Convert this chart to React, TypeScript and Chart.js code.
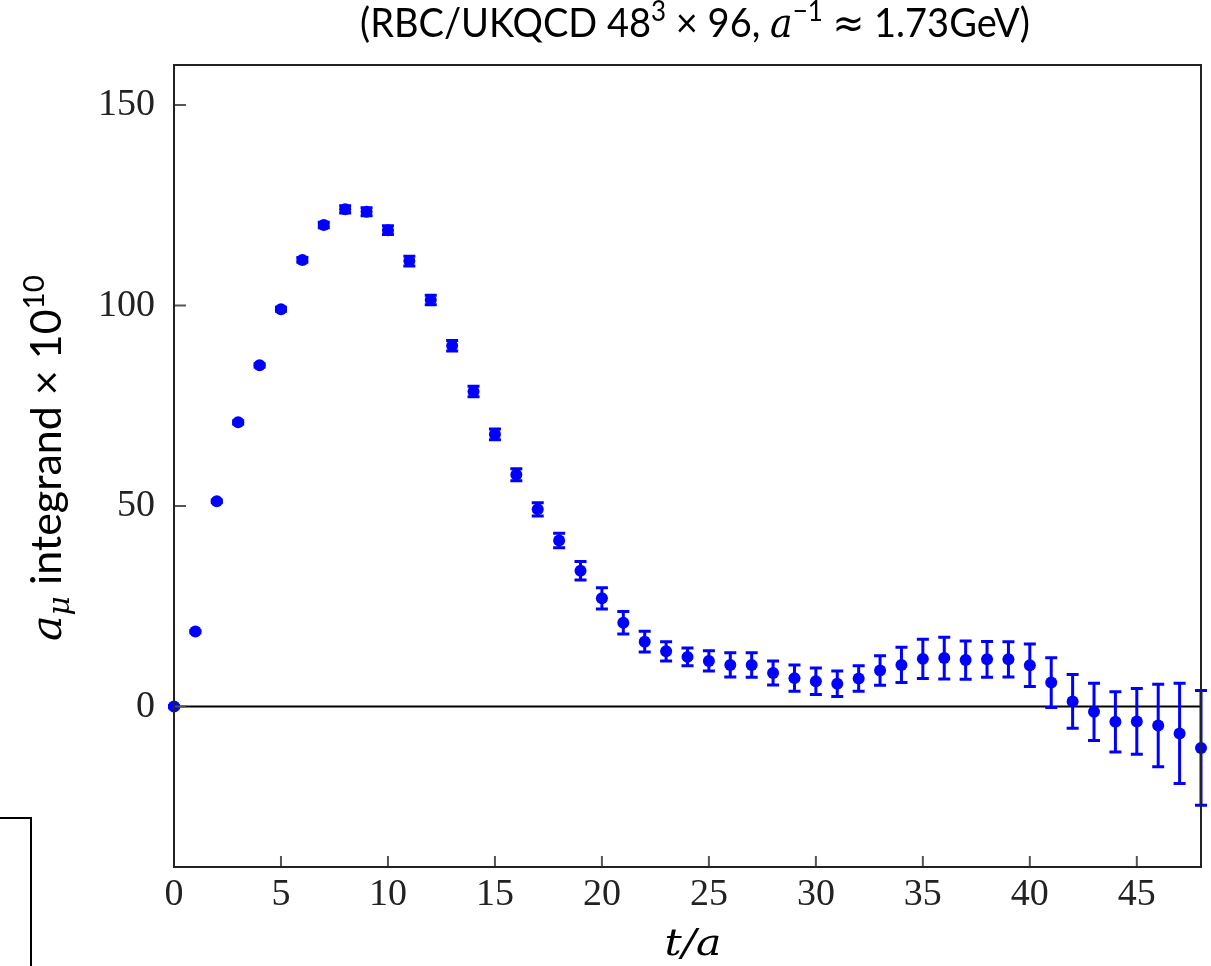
import React, { useEffect, useRef } from 'react';
import { Chart, registerables } from 'chart.js';

Chart.register(...registerables);

// ---- data ----
const tValues = [
  0, 1, 2, 3, 4, 5, 6, 7, 8, 9, 10, 11, 12, 13, 14, 15, 16, 17, 18, 19, 20, 21, 22, 23, 24,
  25, 26, 27, 28, 29, 30, 31, 32, 33, 34, 35, 36, 37, 38, 39, 40, 41, 42, 43, 44, 45, 46, 47, 48,
];
const integrand = [
  0, 18.7, 51.2, 70.9, 85.1, 99.1, 111.4, 120.1, 124.0, 123.4, 118.8, 111.1, 101.4, 90.0, 78.6,
  67.9, 57.8, 49.2, 41.4, 33.9, 27.0, 20.9, 16.2, 13.8, 12.4, 11.4, 10.4, 10.4, 8.4, 7.1, 6.3,
  5.7, 7.0, 9.0, 10.4, 11.9, 12.1, 11.6, 11.8, 11.8, 10.3, 6.0, 1.3, -1.3, -3.8, -3.7, -4.7, -6.7,
  -10.3,
];
const integrandErr = [
  0.3, 0.3, 0.3, 0.4, 0.4, 0.5, 0.6, 0.7, 0.9, 1.0, 1.1, 1.2, 1.2, 1.3, 1.3, 1.35, 1.5, 1.65,
  1.8, 2.3, 2.65, 2.8, 2.6, 2.4, 2.2, 2.5, 3.0, 3.05, 3.0, 3.3, 3.3, 3.2, 3.2, 3.7, 4.4, 4.9, 5.2,
  4.75, 4.45, 4.4, 5.3, 6.2, 6.7, 7.15, 7.5, 8.2, 10.3, 12.5, 14.3,
];
const xTickValues = [0, 5, 10, 15, 20, 25, 30, 35, 40, 45];
const yTickValues = [0, 50, 100, 150];

const BLUE = '#0000ff';
const SANS = 'Lato, "Open Sans", sans-serif';
const MATH = '"DejaVu Serif", serif';
const SYM = '"DejaVu Sans", sans-serif';

type Seg = { text: string; family: string; style?: string; scale?: number; dy?: number };

function segFont(s: Seg, size: number) {
  return `${s.style || 'normal'} normal ${Math.round(size * (s.scale || 1))}px ${s.family}`;
}

function drawRich(ctx: CanvasRenderingContext2D, segs: Seg[], size: number, targetWidth?: number) {
  const widths: number[] = [];
  let total = 0;
  for (const s of segs) {
    ctx.font = segFont(s, size);
    const w = ctx.measureText(s.text).width;
    widths.push(w);
    total += w;
  }
  const sx = targetWidth ? targetWidth / total : 1;
  ctx.save();
  ctx.scale(sx, 1);
  ctx.textAlign = 'left';
  ctx.textBaseline = 'alphabetic';
  ctx.fillStyle = '#000';
  let cx = -total / 2;
  segs.forEach((s, i) => {
    ctx.font = segFont(s, size);
    ctx.fillText(s.text, cx, (s.dy || 0) * size);
    cx += widths[i];
  });
  ctx.restore();
}

const decorPlugin = {
  id: 'decor',
  beforeDatasetsDraw(chart: any) {
    const ctx: CanvasRenderingContext2D = chart.ctx;
    const xs = chart.scales.x;
    const ys = chart.scales.y;
    const a = chart.chartArea;
    ctx.save();
    // zero line
    ctx.strokeStyle = '#000';
    ctx.lineWidth = 2;
    ctx.beginPath();
    ctx.moveTo(a.left, ys.getPixelForValue(0));
    ctx.lineTo(a.right, ys.getPixelForValue(0));
    ctx.stroke();
    // error bars
    ctx.strokeStyle = BLUE;
    ctx.lineWidth = 3;
    const cap = 6;
    tValues.forEach((t, i) => {
      const px = xs.getPixelForValue(t);
      const top = ys.getPixelForValue(integrand[i] + integrandErr[i]);
      const bot = ys.getPixelForValue(integrand[i] - integrandErr[i]);
      ctx.beginPath();
      ctx.moveTo(px, top);
      ctx.lineTo(px, bot);
      ctx.moveTo(px - cap, top);
      ctx.lineTo(px + cap, top);
      ctx.moveTo(px - cap, bot);
      ctx.lineTo(px + cap, bot);
      ctx.stroke();
    });
    ctx.restore();
  },
  afterDraw(chart: any) {
    const ctx: CanvasRenderingContext2D = chart.ctx;
    const xs = chart.scales.x;
    const ys = chart.scales.y;
    const a = chart.chartArea;
    ctx.save();
    // inward tick marks
    ctx.strokeStyle = '#555';
    ctx.lineWidth = 2;
    ctx.beginPath();
    xTickValues.forEach((v) => {
      const px = xs.getPixelForValue(v);
      ctx.moveTo(px, a.bottom);
      ctx.lineTo(px, a.bottom - 11);
    });
    yTickValues.forEach((v) => {
      const py = ys.getPixelForValue(v);
      ctx.moveTo(a.left, py);
      ctx.lineTo(a.left + 12, py);
    });
    ctx.stroke();
    // frame
    ctx.strokeStyle = '#222';
    ctx.lineWidth = 2;
    ctx.strokeRect(a.left, a.top, a.right - a.left, a.bottom - a.top);
    // stray box fragment bottom-left
    ctx.strokeStyle = '#000';
    ctx.lineWidth = 2;
    ctx.beginPath();
    ctx.moveTo(0, 818);
    ctx.lineTo(31, 818);
    ctx.lineTo(31, 966);
    ctx.stroke();

    // title
    ctx.save();
    ctx.translate(695, 37);
    drawRich(
      ctx,
      [
        { text: '(RBC/UKQCD 48', family: SANS },
        { text: '3', family: SANS, scale: 0.68, dy: -0.4 },
        { text: ' × 96, ', family: SANS },
        { text: 'a', family: MATH, style: 'italic' },
        { text: '−1', family: SANS, scale: 0.68, dy: -0.4 },
        { text: ' ', family: SANS },
        { text: '≈', family: SYM },
        { text: ' 1.73GeV)', family: SANS },
      ],
      41,
      670,
    );
    ctx.restore();

    // y-axis title
    ctx.save();
    ctx.translate(61, 458);
    ctx.rotate(-Math.PI / 2);
    drawRich(
      ctx,
      [
        { text: 'a', family: MATH, style: 'italic' },
        { text: 'μ', family: MATH, style: 'italic', scale: 0.7, dy: 0.2 },
        { text: ' integrand × 10', family: SANS },
        { text: '10', family: SANS, scale: 0.68, dy: -0.4 },
      ],
      42,
      366,
    );
    ctx.restore();

    // x-axis title
    ctx.save();
    ctx.translate(693, 955);
    drawRich(ctx, [{ text: 't/a', family: MATH, style: 'italic' }], 38, 57);
    ctx.restore();

    ctx.restore();
  },
};

export default function App() {
  const ref = useRef<HTMLCanvasElement | null>(null);
  useEffect(() => {
    if (!ref.current) return;
    const chart = new Chart(ref.current, {
      type: 'scatter',
      data: {
        datasets: [
          {
            data: tValues.map((t, i) => ({ x: t, y: integrand[i] })),
            backgroundColor: BLUE,
            borderColor: BLUE,
            pointRadius: 6,
            pointBorderWidth: 0,
            showLine: false,
            clip: false as any,
          },
        ],
      },
      options: {
        responsive: false,
        animation: false,
        devicePixelRatio: 1,
        layout: { padding: { top: 65, right: 10, left: 0, bottom: 0 } },
        plugins: { legend: { display: false }, tooltip: { enabled: false }, title: { display: false } },
        scales: {
          x: {
            type: 'linear',
            min: 0,
            max: 48,
            grid: { display: false, drawTicks: false },
            border: { display: false },
            ticks: {
              padding: 5,
              color: '#222',
              font: { family: '"Liberation Serif", serif', size: 38 },
              maxRotation: 0,
              autoSkip: false,
            },
            afterBuildTicks: (s: any) => {
              s.ticks = xTickValues.map((v) => ({ value: v }));
            },
            afterFit: (s: any) => {
              s.height = 99;
            },
          },
          y: {
            type: 'linear',
            min: -40,
            max: 160,
            grid: { display: false, drawTicks: false },
            border: { display: false },
            ticks: {
              padding: 19,
              color: '#222',
              font: { family: '"Liberation Serif", serif', size: 38 },
              autoSkip: false,
            },
            afterBuildTicks: (s: any) => {
              s.ticks = yTickValues.map((v) => ({ value: v }));
            },
            afterFit: (s: any) => {
              s.width = 174;
            },
          },
        },
      },
      plugins: [decorPlugin],
    });
    return () => chart.destroy();
  }, []);
  return (
    <div style={{ position: 'absolute', left: 0, top: 0, width: 1211, height: 966, background: '#fff' }}>
      <canvas ref={ref} width={1211} height={966} style={{ display: 'block', width: 1211, height: 966 }} />
    </div>
  );
}
